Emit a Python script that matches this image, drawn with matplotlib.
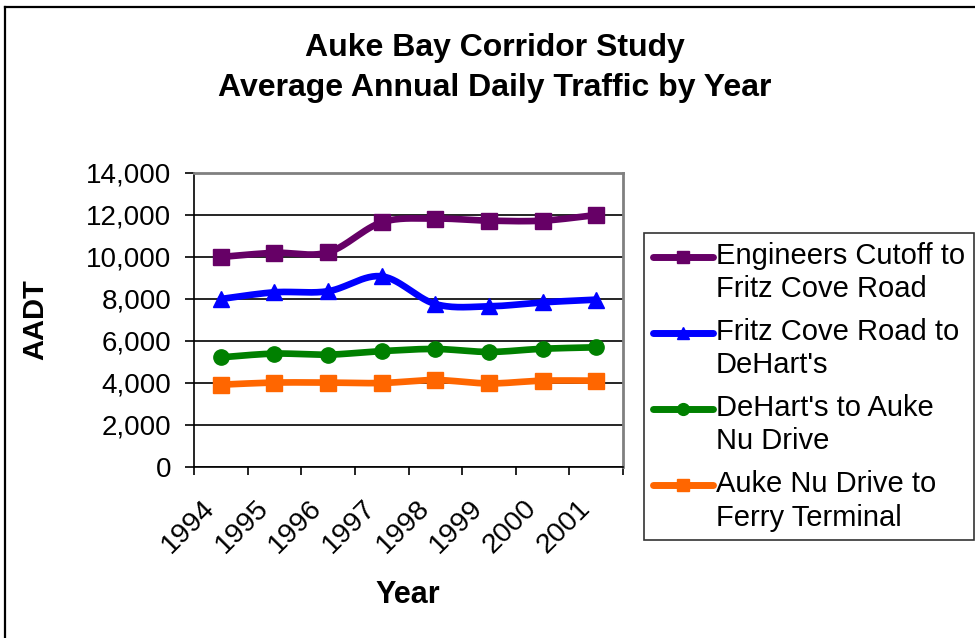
import numpy as np
import matplotlib
matplotlib.use("Agg")
import matplotlib.pyplot as plt
from matplotlib.lines import Line2D
from matplotlib.transforms import ScaledTranslation
from matplotlib.legend_handler import HandlerLine2D

plt.rcParams['font.family'] = ['Liberation Sans', 'DejaVu Sans']

years = ["1994", "1995", "1996", "1997", "1998", "1999", "2000", "2001"]
engineers_fritz = [10000, 10200, 10220, 11650, 11830, 11730, 11730, 12000]
fritz_dehart = [8000, 8320, 8370, 9080, 7760, 7650, 7840, 7970]
dehart_aukenu = [5220, 5400, 5350, 5520, 5620, 5480, 5630, 5700]
aukenu_ferry = [3920, 4020, 4020, 4000, 4140, 3980, 4110, 4110]

series = [
    ("Engineers Cutoff to\nFritz Cove Road", engineers_fritz, "#660066", "s"),
    ("Fritz Cove Road to\nDeHart's", fritz_dehart, "#0000FF", "^"),
    ("DeHart's to Auke\nNu Drive", dehart_aukenu, "#008000", "o"),
    ("Auke Nu Drive to\nFerry Terminal", aukenu_ferry, "#FF6600", "s"),
]


def smooth(x, y, n=30):
    """Catmull-Rom curve through the data points (Excel-like smoothed line)."""
    x = np.asarray(x, float)
    y = np.asarray(y, float)
    px = np.concatenate([[x[0]], x, [x[-1]]])
    py = np.concatenate([[y[0]], y, [y[-1]]])
    xs, ys = [], []
    t = np.linspace(0, 1, n)
    for i in range(1, len(px) - 2):
        p0, p1, p2, p3 = (np.array([px[j], py[j]]) for j in (i - 1, i, i + 1, i + 2))
        c1 = p1 + (p2 - p0) / 6.0
        c2 = p2 - (p3 - p1) / 6.0
        b = ((1 - t) ** 3)[:, None] * p1 + (3 * (1 - t) ** 2 * t)[:, None] * c1 \
            + (3 * (1 - t) * t ** 2)[:, None] * c2 + (t ** 3)[:, None] * p2
        xs.append(b[:, 0])
        ys.append(b[:, 1])
    return np.concatenate(xs), np.concatenate(ys)


class TopLineHandler(HandlerLine2D):
    """Legend handle aligned with the first line of a two-line label."""

    def __init__(self, shift, **kw):
        super().__init__(**kw)
        self.shift = shift

    def create_artists(self, legend, orig_handle, xdescent, ydescent, width,
                       height, fontsize, trans):
        arts = super().create_artists(legend, orig_handle, xdescent, ydescent,
                                      width, height, fontsize, trans)
        for a in arts:
            a.set_ydata(np.asarray(a.get_ydata(), float) + self.shift)
        return arts


W, H = 975, 638
fig = plt.figure(figsize=(W / 100, H / 100), dpi=100)
fig.patch.set_facecolor("white")
ax = fig.add_axes([194 / W, 1 - 467 / H, (623 - 194) / W, (467 - 173) / H])

x = np.arange(len(years))
handles = []
for label, vals, color, mk in series:
    sx, sy = smooth(x, vals)
    ax.plot(sx, sy, color=color, lw=4.8, solid_capstyle="round",
            solid_joinstyle="round", zorder=3)
    ax.plot(x, vals, linestyle="none", marker=mk, color=color, markersize=11,
            markeredgecolor=color, zorder=4)
    h, = ax.plot([], [], color=color, lw=5, marker=mk, markersize=8.5,
                 solid_capstyle="round")
    handles.append((h, label))

ax.set_xlim(-0.5, len(years) - 0.5)
ax.set_ylim(0, 14000)
ax.set_yticks(np.arange(0, 14001, 2000))
ax.set_yticklabels([f"{v:,}" for v in range(0, 14001, 2000)], fontsize=20)
ax.yaxis.grid(True, color="black", lw=1.2)
ax.set_axisbelow(True)

ax.set_xticks(np.arange(-0.5, len(years), 1.0))
ax.set_xticklabels([])
ax.set_xticks(x, minor=True)
ax.set_xticklabels(years, minor=True, fontsize=20.5, rotation=45,
                   ha="right", va="center", rotation_mode="anchor")
ax.tick_params(axis="x", which="minor", length=0, pad=30)
ax.tick_params(axis="x", which="major", length=6, width=1.2, direction="out")
ax.tick_params(axis="y", length=6.5, width=1.2, direction="out", pad=10)
off = ScaledTranslation(-10 / 100, 4 / 100, fig.dpi_scale_trans)
for lbl in ax.get_xticklabels(minor=True):
    lbl.set_transform(lbl.get_transform() + off)

for s in ("top", "right"):
    ax.spines[s].set_color("#808080")
    ax.spines[s].set_linewidth(2)
for s in ("left", "bottom"):
    ax.spines[s].set_color("black")
    ax.spines[s].set_linewidth(1.2)

fig.text(35 / W, 1 - 320 / H, "AADT", fontsize=21, fontweight="bold",
         ha="center", va="center", rotation=90)
fig.text(408 / W, 1 - 595 / H, "Year", fontsize=22, fontweight="bold",
         ha="center", va="center")

fig.text(495 / W, 1 - 48 / H, "Auke Bay Corridor Study", fontsize=23,
         fontweight="bold", ha="center", va="center")
fig.text(495 / W, 1 - 88 / H, "Average Annual Daily Traffic by Year", fontsize=23,
         fontweight="bold", ha="center", va="center")

hmap = {h: TopLineHandler(12.0) for h, _ in handles}
leg = fig.legend([h for h, _ in handles], [l for _, l in handles],
                 loc="upper left", bbox_to_anchor=(644 / W, 1 - 233 / H),
                 fontsize=21, frameon=True, fancybox=False, edgecolor="black",
                 handlelength=2.05, handletextpad=0.12, labelspacing=0.5,
                 borderpad=0.3, borderaxespad=0, handler_map=hmap)
leg.get_frame().set_linewidth(1.2)
for t in leg.get_texts():
    t.set_linespacing(1.25)

# outer chart border (only left and top edges visible in the reference)
fig.add_artist(Line2D([5 / W, 5 / W], [0, 1 - 7 / H], transform=fig.transFigure,
                      color="black", lw=1.6))
fig.add_artist(Line2D([5 / W, 1], [1 - 7 / H, 1 - 7 / H], transform=fig.transFigure,
                      color="black", lw=1.6))

fig.savefig("out.png", dpi=100, facecolor="white")
